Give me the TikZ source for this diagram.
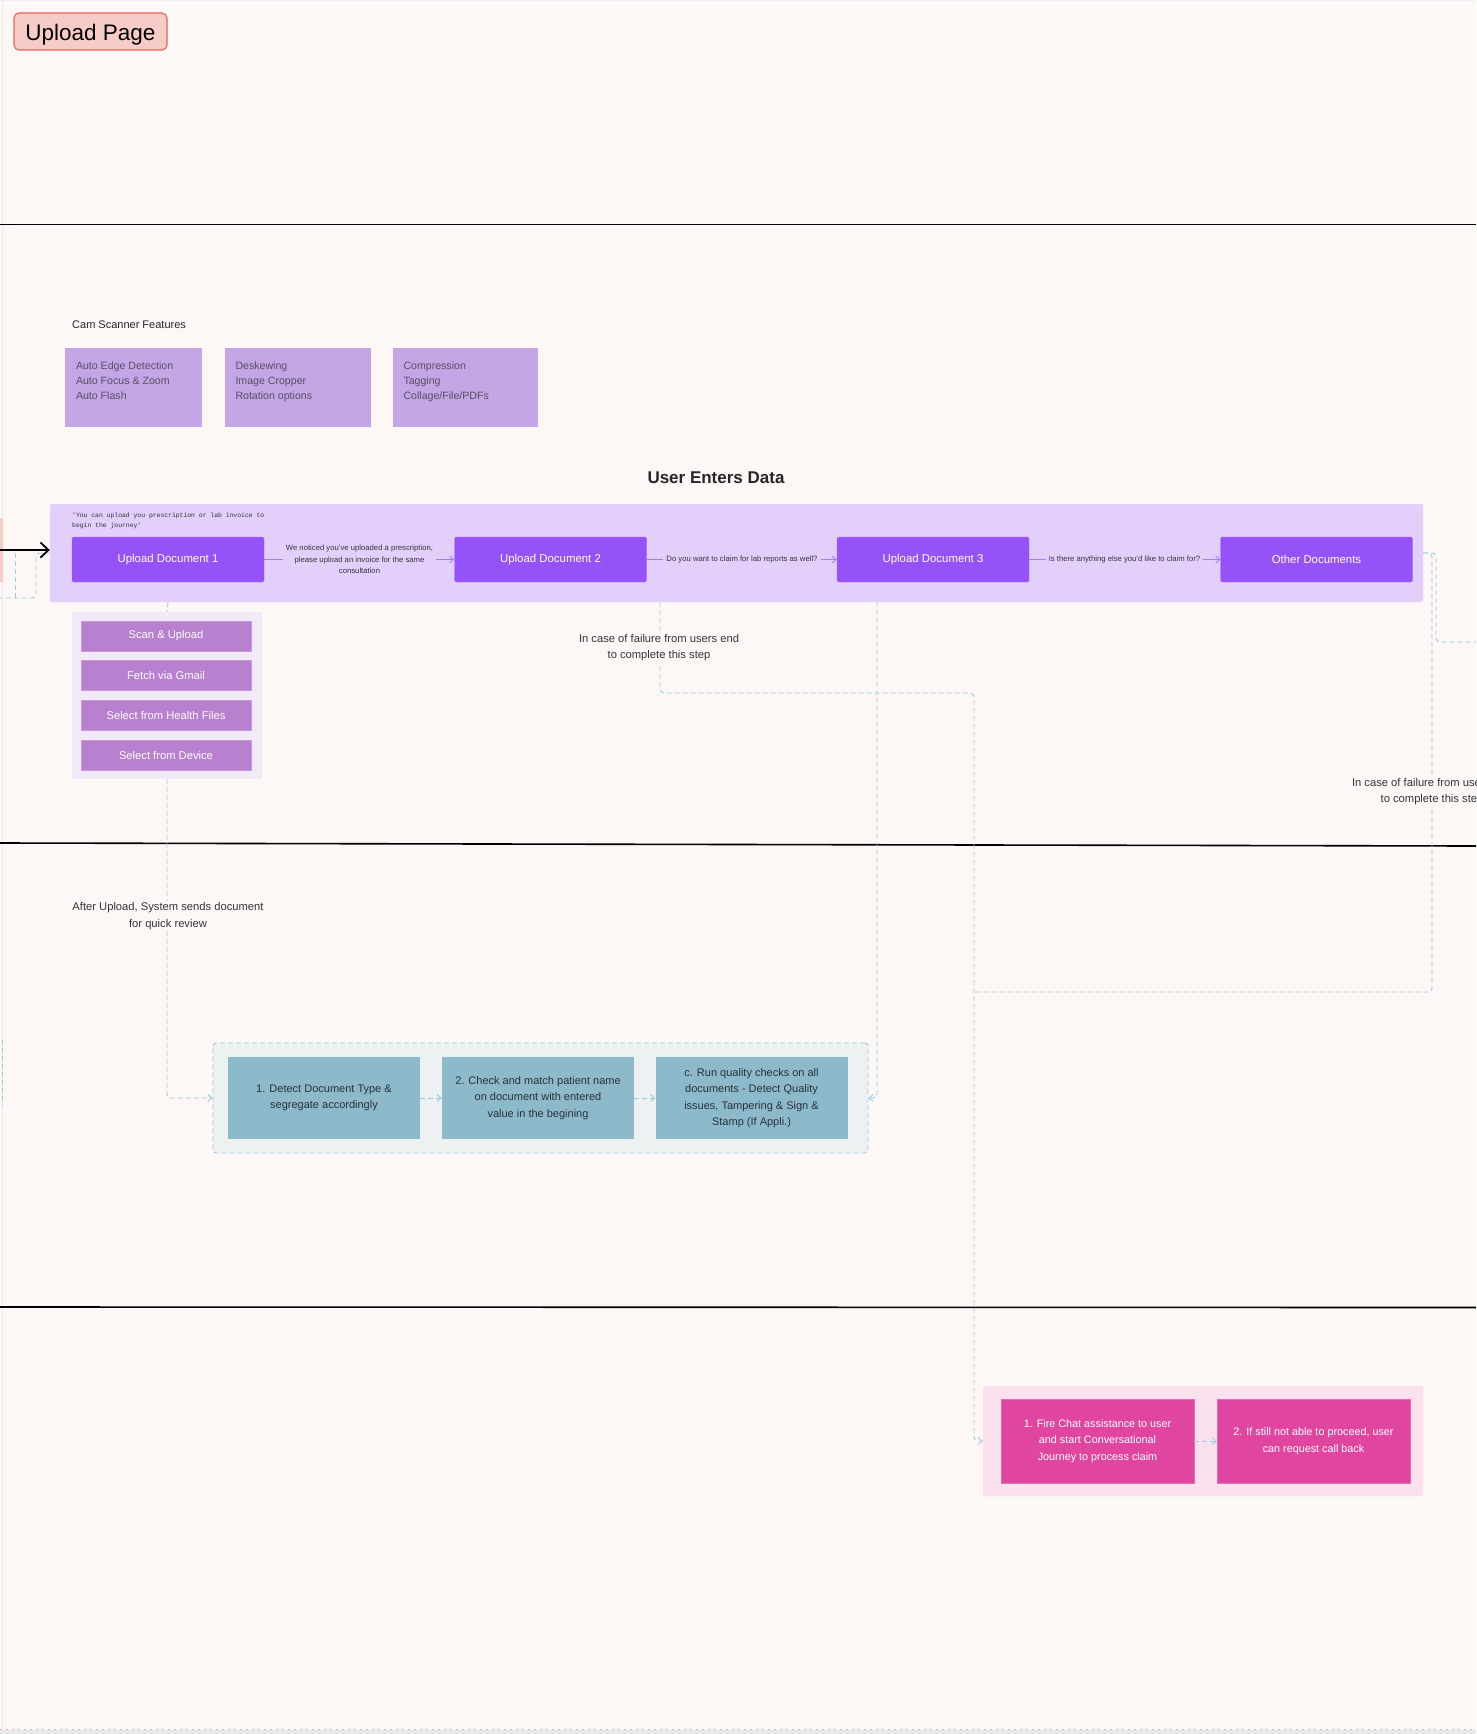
\documentclass[tikz,border=0pt]{standalone}
\usepackage{fontspec}
\setmainfont{Liberation Sans}
\newfontfamily\monof{Liberation Mono}
\usetikzlibrary{arrows.meta}
\definecolor{bgc}{HTML}{FDF7F6}
\definecolor{titlefill}{HTML}{F8CCC6}
\definecolor{titledraw}{HTML}{E8625A}
\definecolor{featfill}{HTML}{C4A5E6}
\definecolor{feattext}{HTML}{55505F}
\definecolor{bandfill}{HTML}{E2CFFC}
\definecolor{docfill}{HTML}{9552F9}
\definecolor{optfill}{HTML}{B880CE}
\definecolor{optbg}{HTML}{F3EAF9}
\definecolor{linkpurple}{HTML}{A77BF5}
\definecolor{dashc}{HTML}{9CCBDD}
\definecolor{tealgrp}{HTML}{EEF1F1}
\definecolor{tealbox}{HTML}{8DBACB}
\definecolor{tealtext}{HTML}{26323A}
\definecolor{pinkgrp}{HTML}{FBE1EE}
\definecolor{pinkbox}{HTML}{E046A0}
\definecolor{darktext}{HTML}{34343C}
\newcommand\fsz[2]{\fontsize{#1}{#2}\selectfont}
\tikzset{
  sbarb/.style={-{Straight Barb[length=4pt,width=7pt]}},
  dsh/.style={draw=dashc, line width=0.9pt, dash pattern=on 5pt off 3pt},
  featbox/.style={rectangle, fill=featfill, minimum width=#1, minimum height=79pt, inner sep=0pt},
  feattxt/.style={anchor=north west, inner sep=0pt, align=left, text=feattext, font=\fsz{10.6}{15}},
  docbox/.style={rectangle, rounded corners=1.5pt, fill=docfill, draw=docfill!85!white, minimum width=192pt, minimum height=45pt, inner sep=0pt, text=white, font=\fsz{11.4}{14}},
  linktxt/.style={inner sep=3pt, align=center, text=darktext, font=\fsz{7.7}{11.5}},
  optbox/.style={rectangle, fill=optfill, draw=optfill!80!white, minimum width=170pt, minimum height=30pt, inner sep=0pt, text=white, font=\fsz{11.2}{14}},
  tealbx/.style={rectangle, fill=tealbox, minimum width=192pt, minimum height=82pt, inner sep=0pt, align=center, text=tealtext, font=\fsz{11}{16.5}},
  pinkbx/.style={rectangle, fill=pinkbox, draw=pinkbox!80!white, minimum width=193pt, minimum height=84pt, inner sep=0pt, align=center, text=white, font=\fsz{10.8}{16.7}},
  notetxt/.style={fill=bgc, inner sep=2pt, align=center, text=darktext, font=\fsz{11.2}{16.5}},
  sepline/.style={line width=1.6pt, black},
}
\begin{document}
\begin{tikzpicture}[x=1pt,y=-1pt]
\useasboundingbox (0,0) rectangle (1476,1734);
\fill[bgc] (0,0) rectangle (1476,1734);
\clip (0,0) rectangle (1476,1734);
% canvas frame
\draw[black!8, line width=1pt] (2,0) -- (2,1729);
\draw[black!6, line width=0.8pt] (0,0.5) -- (1476,0.5);
\fill[black!9] (0,1730) rectangle (1476,1734);
\draw[black!25, line width=0.8pt, dash pattern=on 1.5pt off 4.5pt] (0,1729) -- (1476,1729);

% title
\node[rectangle, rounded corners=5pt, fill=titlefill, draw=titledraw, line width=1.1pt,
  minimum width=153pt, minimum height=37pt, inner sep=0pt, text height=18pt, text depth=0pt,
  font=\fsz{22.5}{26}] (title) at (90.5,31.5) {Upload Page};

% separators
\coordinate (s1a) at (0,224.5);   \coordinate (s1b) at (1476,224.5);
\coordinate (s2a) at (0,843);     \coordinate (s2b) at (1476,846);
\coordinate (s3a) at (0,1307);    \coordinate (s3b) at (1476,1307.5);
\draw[sepline] (s1a) -- (s1b);
\draw[sepline] (s2a) -- (s2b);
\draw[sepline] (s3a) -- (s3b);

% cam scanner features
\node[anchor=west, inner sep=0pt, font=\fsz{11}{14}, text=black!85] (camlbl) at (72,325) {Cam Scanner Features};
\node[featbox=137pt] (f1) at (133.5,387.5) {};
\node[featbox=146pt] (f2) at (297.5,387.5) {};
\node[featbox=145pt] (f3) at (465,387.5) {};
\node[feattxt] (f1t) at ([xshift=11pt,yshift=-14pt]f1.north west) {Auto Edge Detection\\Auto Focus \& Zoom\\Auto Flash};
\node[feattxt] (f2t) at ([xshift=11pt,yshift=-14pt]f2.north west) {Deskewing\\Image Cropper\\Rotation options};
\node[feattxt] (f3t) at ([xshift=11pt,yshift=-14pt]f3.north west) {Compression\\Tagging\\Collage/File/PDFs};

% user enters data
\node[font=\bfseries\fsz{17}{20}, text=black!85, inner sep=0pt] (ued) at (716,478) {User Enters Data};
\node[rectangle, rounded corners=1.5pt, fill=bandfill, minimum width=1373pt, minimum height=98pt, inner sep=0pt] (band) at (736.5,553) {};
\node[anchor=north west, inner sep=0pt, align=left, font=\monof\fsz{6.4}{9.5}, text=black!80] (mono) at (72,513) {'You can upload you prescription or lab invoice to\\begin the journey'};

\node[docbox] (doc1) at (168,559.5) {Upload Document 1};
\node[docbox] (doc2) at (550.5,559.5) {Upload Document 2};
\node[docbox] (doc3) at (933,559.5) {Upload Document 3};
\node[docbox] (doc4) at (1316.5,559.5) {Other Documents};

\node[linktxt] (t1) at (359.5,559.5) {We noticed you've uploaded a prescription,\\please upload an invoice for the same\\consultation};
\node[linktxt] (t2) at (742,559.5) {Do you want to claim for lab reports as well?};
\node[linktxt] (t3) at (1124.5,559.5) {Is there anything else you'd like to claim for?};
\draw[linkpurple, line width=0.9pt] (doc1) -- (t1);
\draw[linkpurple, line width=0.9pt, sbarb] (t1) -- (doc2);
\draw[linkpurple, line width=0.9pt] (doc2) -- (t2);
\draw[linkpurple, line width=0.9pt, sbarb] (t2) -- (doc3);
\draw[linkpurple, line width=0.9pt] (doc3) -- (t3);
\draw[linkpurple, line width=0.9pt, sbarb] (t3) -- (doc4);

% left edge stubs
\fill[titlefill] (0,518) rectangle (2.5,582);
\coordinate (l0) at (0,550);
\coordinate (l1) at (36,598);
\coordinate (l2) at (0,598);
\coordinate (l3) at (15,553);
\coordinate (l4) at (15,598);
\coordinate (e1) at (2,1040);
\coordinate (e2) at (2,1105);
\draw[dsh, rounded corners=4pt] (band.west) -| (l1) -- (l2);
\draw[dsh] (l3) -- (l4);
\draw[dsh] (e1) -- (e2);
\draw[black, line width=1.8pt, -{Straight Barb[length=8pt,width=15pt,line width=1.8pt]}] (l0) -- (l0 -| band.west);

% upload options
\node[rectangle, fill=optbg, minimum width=190pt, minimum height=167pt, inner sep=0pt] (opts) at (167,695.5) {};
\node[optbox] (o1) at (166,636) {Scan \& Upload};
\node[optbox] (o2) at (166,675.5) {Fetch via Gmail};
\node[optbox] (o3) at (166,715) {Select from Health Files};
\node[optbox] (o4) at (166,755) {Select from Device};

% review group
\node[rectangle, rounded corners=3pt, fill=tealgrp, dsh, minimum width=655pt, minimum height=110pt, inner sep=0pt] (tgrp) at (540.5,1098) {};
\node[tealbx] (tb1) at (324,1098) {1. Detect Document Type \&\\segregate accordingly};
\node[tealbx] (tb2) at (538,1098) {2. Check and match patient name\\on document with entered\\value in the begining};
\node[tealbx] (tb3) at (751.5,1098) {c. Run quality checks on all\\documents - Detect Quality\\issues, Tampering \& Sign \&\\Stamp (If Appli.)};
\draw[dsh, sbarb] (tb1) -- (tb2);
\draw[dsh, sbarb] (tb2) -- (tb3);

% assistance group
\node[rectangle, rounded corners=2pt, fill=pinkgrp, minimum width=440pt, minimum height=110pt, inner sep=0pt] (pgrp) at (1203,1441) {};
\node[pinkbx] (pb1) at (1097.5,1441) {1. Fire Chat assistance to user\\and start Conversational\\Journey to process claim};
\node[pinkbx] (pb2) at (1313.5,1441) {2. If still not able to proceed, user\\can request call back};
\draw[dsh, sbarb] (pb1) -- (pb2);

% dashed connectors
\coordinate (b1) at (doc1 |- band.south);
\draw[dsh] (b1) -- (opts.north);
\draw[dsh, rounded corners=4pt, sbarb] (opts.south) |- (tgrp.west);

\coordinate (c2) at (660,602);
\coordinate (j1) at (974,693);
\coordinate (j2) at (974,992);
\draw[dsh, rounded corners=4pt, sbarb] (c2) |- (j1) |- (pgrp.west);

\coordinate (c3) at (877,602);
\draw[dsh, rounded corners=4pt, sbarb] (c3) |- (tgrp.east);

\coordinate (r2) at (1432,992);
\coordinate (r4) at (1436,642);
\coordinate (r3) at (1476,642);
\draw[dsh, rounded corners=4pt] (band.east) -| (r2) -- (j2);
\draw[dsh, rounded corners=4pt] (band.east) -| (r4) -- (r3);

% notes
\node[notetxt] (n1) at (659,647.5) {In case of failure from users end\\to complete this step};
\node[notetxt] (n2) at (1432,791.5) {In case of failure from users end\\to complete this step};
\node[notetxt] (n3) at (168,916) {After Upload, System sends document\\for quick review};
\end{tikzpicture}
\end{document}
